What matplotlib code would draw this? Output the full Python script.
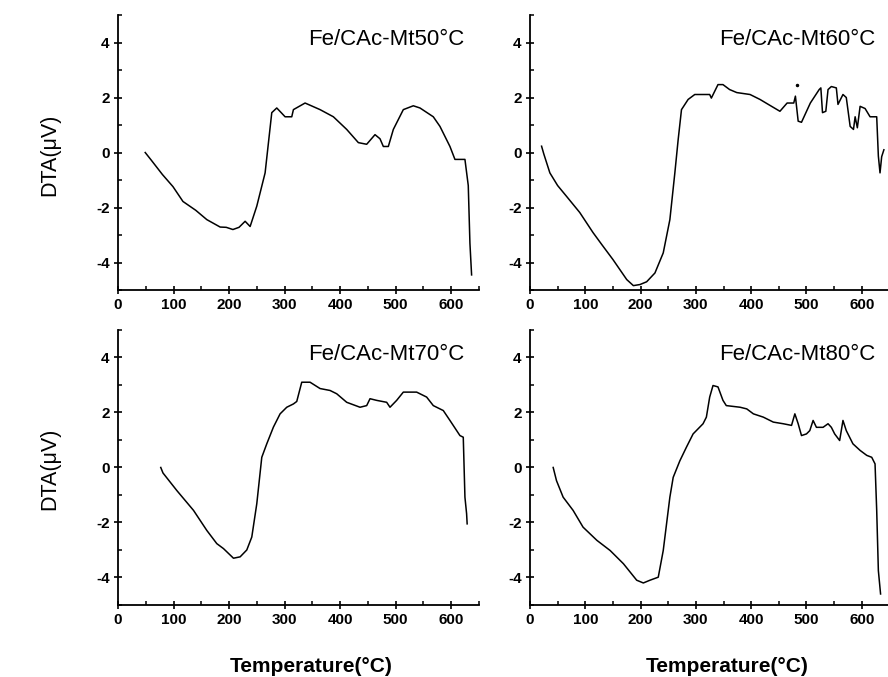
import matplotlib
matplotlib.use("Agg")
import matplotlib.pyplot as plt
from matplotlib.ticker import MultipleLocator

plt.rcParams['font.family'] = ['Liberation Sans', 'DejaVu Sans']
plt.rcParams['axes.unicode_minus'] = False

# Fe/CAc-Mt50°C
t50 = [49, 60, 80, 99, 117, 140, 160, 184, 195, 207, 218, 229, 238, 250, 265, 277, 286, 294,
       301, 313, 316, 337, 364, 388, 412, 433, 448, 463, 472, 478, 487, 496, 514, 532, 544,
       568, 580, 598, 607, 625, 631, 634, 637]
v50 = [0, -0.28, -0.8, -1.24, -1.78, -2.1, -2.44, -2.71, -2.72, -2.8, -2.72, -2.5, -2.69, -1.95,
       -0.74, 1.45, 1.62, 1.45, 1.3, 1.3, 1.56, 1.8, 1.56, 1.3, 0.84, 0.36, 0.3, 0.65, 0.5, 0.22,
       0.22, 0.84, 1.56, 1.7, 1.62, 1.3, 0.95, 0.22, -0.25, -0.25, -1.2, -3.3, -4.45]

# Fe/CAc-Mt60°C
t60 = [21, 25, 36, 50, 66, 90, 114, 130, 150, 175, 187, 199, 211, 226, 241, 253, 262, 268, 274,
       286, 298, 325, 328, 340, 349, 361, 374, 398, 416, 431, 452, 465, 477, 480, 485, 491, 507,
       523, 526, 529, 535, 539, 545, 554, 557, 566, 572, 579, 585, 588, 592, 597, 606, 615, 627,
       630, 633, 636, 640]
v60 = [0.23, -0.05, -0.74, -1.2, -1.59, -2.18, -2.91, -3.35, -3.89, -4.62, -4.84, -4.8, -4.7,
       -4.38, -3.65, -2.44, -0.74, 0.47, 1.56, 1.93, 2.11, 2.11, 1.98, 2.47, 2.47, 2.29, 2.18,
       2.11, 1.93, 1.75, 1.5, 1.8, 1.8, 2.05, 1.14, 1.1, 1.8, 2.29, 2.35, 1.45, 1.5, 2.29, 2.4,
       2.35, 1.75, 2.11, 2.0, 0.95, 0.84, 1.3, 0.9, 1.68, 1.6, 1.3, 1.3, -0.13, -0.74, -0.15, 0.1]
dot60_t = [482]
dot60_v = [2.47]

# Fe/CAc-Mt70°C
t70 = [77, 81, 106, 136, 160, 178, 190, 208, 220, 232, 241, 250, 259, 268, 280, 292, 304, 316,
       322, 331, 346, 364, 382, 394, 412, 436, 448, 454, 466, 484, 490, 502, 514, 538, 556, 568,
       586, 598, 616, 622, 625, 628, 629]
v70 = [0, -0.2, -0.84, -1.56, -2.29, -2.77, -2.95, -3.3, -3.25, -3.0, -2.53, -1.32, 0.37, 0.86,
       1.47, 1.95, 2.19, 2.31, 2.4, 3.1, 3.1, 2.87, 2.8, 2.68, 2.37, 2.19, 2.25, 2.5, 2.44, 2.37,
       2.19, 2.44, 2.74, 2.74, 2.56, 2.25, 2.07, 1.71, 1.16, 1.1, -1.08, -1.68, -2.05]

# Fe/CAc-Mt80°C
t80 = [42, 48, 60, 78, 96, 121, 145, 169, 193, 205, 217, 232, 241, 253, 259, 271, 283, 295, 313,
       319, 325, 331, 340, 349, 355, 380, 392, 404, 422, 440, 458, 473, 479, 485, 491, 500, 506,
       512, 518, 530, 539, 545, 551, 560, 566, 572, 584, 597, 609, 618, 624, 627, 630, 634]
v80 = [0, -0.48, -1.08, -1.56, -2.17, -2.65, -3.02, -3.5, -4.1, -4.2, -4.1, -3.99, -3.02, -1.08,
       -0.36, 0.24, 0.74, 1.22, 1.59, 1.83, 2.56, 2.98, 2.93, 2.44, 2.25, 2.19, 2.13, 1.95, 1.83,
       1.65, 1.59, 1.53, 1.95, 1.59, 1.16, 1.22, 1.34, 1.71, 1.46, 1.46, 1.59, 1.46, 1.22, 0.98,
       1.71, 1.34, 0.86, 0.62, 0.44, 0.37, 0.13, -1.56, -3.75, -4.6]

labels = ["Fe/CAc-Mt50°C", "Fe/CAc-Mt60°C", "Fe/CAc-Mt70°C", "Fe/CAc-Mt80°C"]
series = [(t50, v50), (t60, v60), (t70, v70), (t80, v80)]

fig = plt.figure(figsize=(8.88, 6.77), dpi=100)
boxes = [[0.1329, 0.5716, 0.4063, 0.4062],
         [0.5968, 0.5716, 0.4048, 0.4062],
         [0.1329, 0.1064, 0.4063, 0.4062],
         [0.5968, 0.1064, 0.4048, 0.4062]]

axes = []
for box, (t, v), lab in zip(boxes, series, labels):
    ax = fig.add_axes(box)
    ax.plot(t, v, color='black', lw=1.1)
    ax.set_xlim(0, 650)
    ax.set_ylim(-5, 5)
    ax.spines['top'].set_visible(False)
    ax.spines['right'].set_visible(False)
    ax.spines['left'].set_linewidth(1.3)
    ax.spines['bottom'].set_linewidth(1.3)
    ax.xaxis.set_major_locator(MultipleLocator(100))
    ax.xaxis.set_minor_locator(MultipleLocator(50))
    ax.yaxis.set_major_locator(MultipleLocator(2))
    ax.yaxis.set_minor_locator(MultipleLocator(1))
    ax.tick_params(which='major', direction='inout', length=6, width=1.2, pad=3,
                   labelsize=11)
    ax.tick_params(which='minor', direction='in', length=3, width=1.1)
    for lbl in ax.get_xticklabels() + ax.get_yticklabels():
        lbl.set_fontweight('bold')
    ax.text(0.96, 0.91, lab, transform=ax.transAxes, ha='right', va='center', fontsize=16)
    axes.append(ax)

axes[1].plot(dot60_t, dot60_v, 'o', color='black', ms=1.5)

for y in [0.771, 0.307]:
    fig.text(0.056, y, "DTA(μV)", rotation=90, ha='center', va='center', fontsize=15.5)
for x in [0.35, 0.819]:
    fig.text(x, 0.016, "Temperature(°C)", ha='center', va='center', fontsize=15,
             fontweight='bold')

fig.savefig("out.png", dpi=100)
